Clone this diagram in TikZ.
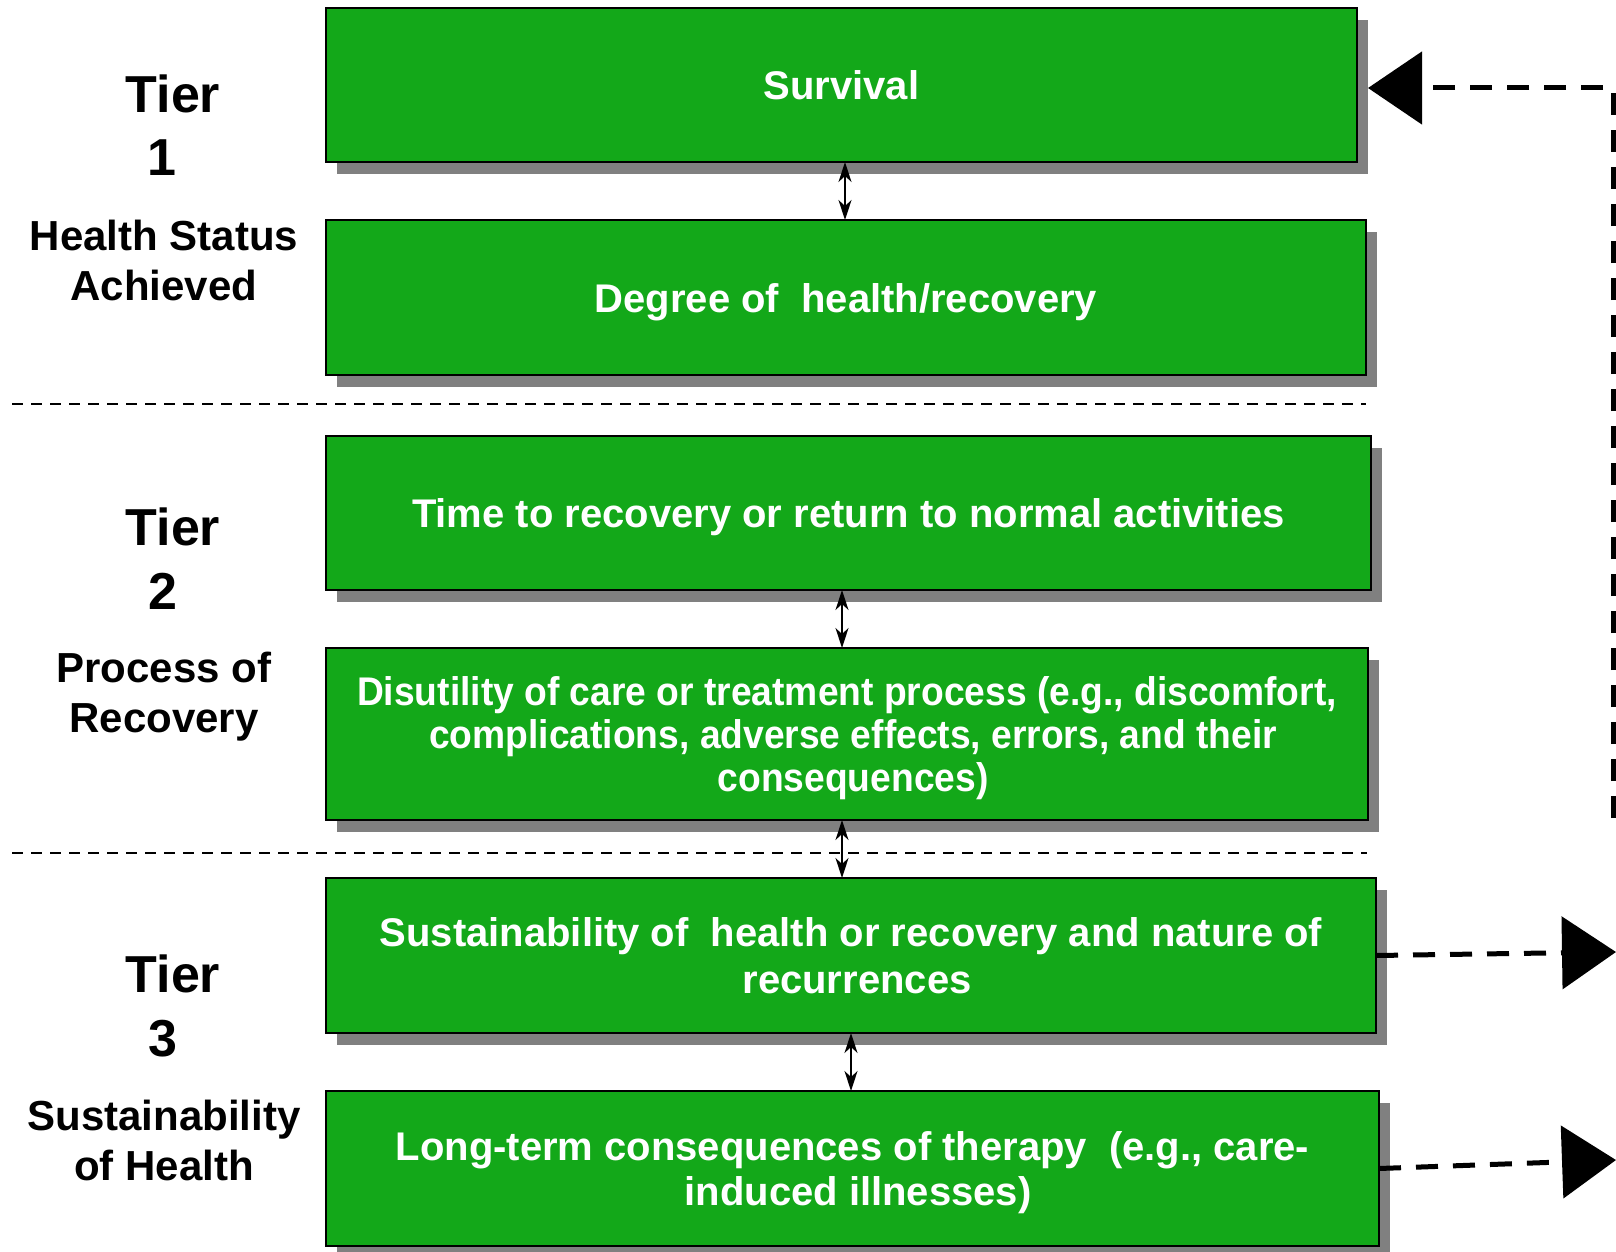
\documentclass[tikz,border=0pt]{standalone}
\usepackage{fontspec}
\setmainfont{Liberation Sans}
\usetikzlibrary{arrows.meta,shadows}
\definecolor{boxgreen}{RGB}{19,168,25}
\newcommand\btext[2]{\raisebox{#1}[\height][\depth]{\begin{tabular}{@{}c@{}}#2\end{tabular}}}
\begin{document}
\begin{tikzpicture}[x=1pt,y=-1pt,
  gbox/.style={draw=black, line width=2.5pt, fill=boxgreen, text=white,
    font=\fontsize{40}{43}\selectfont\bfseries, align=center, inner sep=0pt, outer sep=0pt,
    drop shadow={shadow xshift=11pt, shadow yshift=-12pt, fill=black!50, opacity=1}},
  tierlab/.style={font=\fontsize{52}{60}\selectfont\bfseries, inner sep=0pt},
  sublab/.style={font=\fontsize{42}{50}\selectfont\bfseries, align=center, inner sep=0pt},
  dbl/.style={{Stealth[length=20pt,width=13pt,inset=6pt]}-{Stealth[length=20pt,width=13pt,inset=6pt]}, line width=1.5pt},
  sepline/.style={line width=2pt, dash pattern=on 11pt off 8pt},
  fb/.style={line width=5pt, dash pattern=on 22pt off 15pt, -{Triangle[length=54pt,width=72pt]}},
]
\useasboundingbox (0,0) rectangle (1616,1252);

% separators
\draw[sepline] (12,404) -- (1366,404);
\draw[sepline] (12,853) -- (1367,853);

% boxes
\node[gbox, minimum width=1031pt, minimum height=154pt] (b1) at (841.5,85) {Survival};
\node[gbox, minimum width=1040pt, minimum height=155pt] (b2) at (846,297.5) {\btext{-6pt}{Degree of\ \ health/recovery}};
\node[gbox, minimum width=1045pt, minimum height=154pt] (b3) at (848.5,513) {\btext{-6pt}{Time to recovery or return to normal activities}};
\node[gbox, minimum width=1042pt, minimum height=172pt] (b4) at (847,734) {\btext{-6pt}{\scalebox{0.93}[1]{\begin{tabular}{@{}c@{}}Disutility of care or treatment process (e.g., discomfort,\\\hspace*{13pt}complications, adverse effects, errors, and their\\\hspace*{13pt}consequences)\end{tabular}}}};
\node[gbox, minimum width=1050pt, minimum height=155pt, font=\fontsize{40}{47}\selectfont\bfseries] (b5) at (851,955.5) {\btext{-5pt}{Sustainability of\ \ health or recovery and nature of\\\hspace*{12pt}recurrences}};
\node[gbox, minimum width=1053pt, minimum height=155pt, font=\fontsize{40}{45}\selectfont\bfseries] (b6) at (852.5,1168.5) {\btext{-5pt}{Long-term consequences of therapy\ \ (e.g., care-\\\hspace*{11pt}induced illnesses)}};

% tier labels
\node[tierlab] (t1a) at (173,94) {Tier};
\node[tierlab] (t1b) at (162,158) {1};
\node[sublab] (t1c) at (164,260) {Health Status\\Achieved};
\node[tierlab] (t2a) at (173,527) {Tier};
\node[tierlab] (t2b) at (163,591) {2};
\node[sublab] (t2c) at (164,697) {Process of\\Recovery};
\node[tierlab] (t3a) at (173,974) {Tier};
\node[tierlab] (t3b) at (163,1039) {3};
\node[sublab] (t3c) at (164,1140) {Sustainability\\of Health};

% double arrows
\draw[dbl] ([xshift=3.5pt]b1.south) -- ([xshift=-1pt]b2.north);
\draw[dbl] ([xshift=-6.5pt]b3.south) -- ([xshift=-5pt]b4.north);
\draw[dbl] ([xshift=-5pt]b4.south) -- ([xshift=-9pt]b5.north);
\draw[dbl] (b5.south) -- ([xshift=-1.5pt]b6.north);

% feedback arrows
\coordinate (fbstart) at (1613,818);
\coordinate (fbcorner) at (1613,88);
\coordinate (o5) at (1616,952);
\coordinate (o6) at (1616,1160);
\draw[fb] (fbstart) -- (fbcorner) -- ([xshift=11pt,yshift=-3pt]b1.east);
\draw[fb] (b5.east) -- (o5);
\draw[fb] (b6.east) -- (o6);
\end{tikzpicture}
\end{document}
